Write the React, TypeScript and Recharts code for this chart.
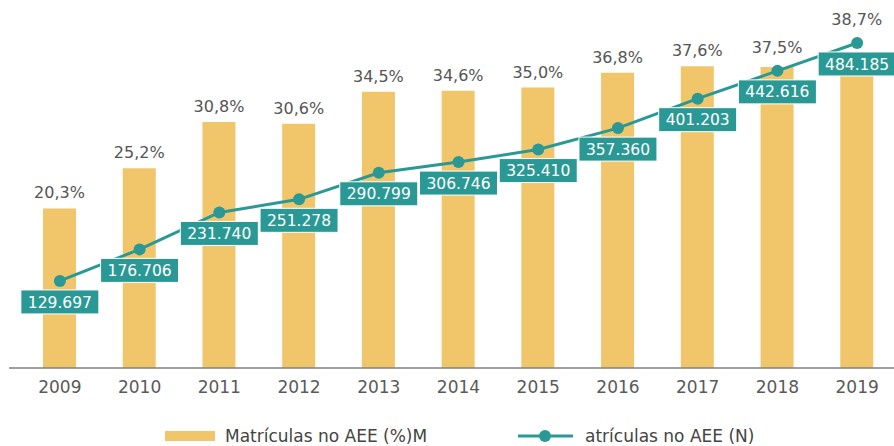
import React from 'react';
import { ComposedChart, Bar, Line, XAxis, YAxis, LabelList } from 'recharts';

const years = ['2009', '2010', '2011', '2012', '2013', '2014', '2015', '2016', '2017', '2018', '2019'];
const pctAEE = [20.3, 25.2, 30.8, 30.6, 34.5, 34.6, 35.0, 36.8, 37.6, 37.5, 38.7];
const countAEE = [129697, 176706, 231740, 251278, 290799, 306746, 325410, 357360, 401203, 442616, 484185];

const BAR_COLOR = '#F1C66B';
const TEAL = '#2A9995';
const FONT = '"DejaVu Sans", sans-serif';
const N_MAX = 503500;
const PLOT_H = 338; // 446 - top 30 - bottom 48 - axis 30

const data = years.map((y, i) => ({ year: y, pct: pctAEE[i], n: countAEE[i] }));

const fmtPct = (v: any) => `${Number(v).toFixed(1).replace('.', ',')}%`;
const fmtN = (v: number) => String(v).replace(/\B(?=(\d{3})+(?!\d))/g, '.');

// percent label above the bar, pushed up when the line point sits higher than the bar
const PctLabel = (props: any) => {
  const { x, y, width, height, value, index } = props;
  if (x == null || y == null) return null;
  const bottom = y + height;
  const dotY = bottom - (countAEE[index] / N_MAX) * PLOT_H;
  const top = Math.min(y, dotY - 8);
  return (
    <text x={x + width / 2} y={top - 10} textAnchor="middle" fill="#555" fontSize={16} fontFamily={FONT}>
      {fmtPct(value)}
    </text>
  );
};

// teal box under each point of the line
const CountLabel = (props: any) => {
  const { x, y, value } = props;
  if (x == null || y == null) return null;
  const w = 78;
  const h = 24;
  return (
    <g>
      <rect x={x - w / 2} y={y + 9} width={w} height={h} fill={TEAL} stroke="#fff" strokeWidth={1} />
      <text x={x} y={y + 21} dy="0.36em" textAnchor="middle" fill="#fff" fontSize={15.5} fontFamily={FONT}>
        {fmtN(value)}
      </text>
    </g>
  );
};

export default function App() {
  return (
    <div style={{ position: 'absolute', left: 0, top: 0, width: 894, height: 446, overflow: 'hidden', background: '#fff', fontFamily: FONT }}>
      <ComposedChart width={900} height={446} data={data} margin={{ top: 30, right: 3, bottom: 48, left: 9 }}>
        <XAxis
          dataKey="year"
          height={30}
          padding={{ left: 11, right: 0 }}
          tickLine={false}
          tickMargin={7}
          axisLine={{ stroke: '#808080', strokeWidth: 1.5 }}
          tick={{ fill: '#5a5a5a', fontSize: 17, fontFamily: FONT }}
          interval={0}
        />
        <YAxis yAxisId="pct" hide type="number" domain={[0.9, 42]} allowDataOverflow />
        <YAxis yAxisId="n" hide type="number" domain={[0, N_MAX]} allowDataOverflow orientation="right" />
        <Bar yAxisId="pct" dataKey="pct" fill={BAR_COLOR} barSize={33} isAnimationActive={false}>
          <LabelList dataKey="pct" content={<PctLabel />} />
        </Bar>
        <Line
          yAxisId="n"
          dataKey="n"
          type="linear"
          stroke={TEAL}
          strokeWidth={3}
          dot={{ r: 6, fill: TEAL, stroke: TEAL, strokeWidth: 0 }}
          isAnimationActive={false}
        >
          <LabelList dataKey="n" content={<CountLabel />} />
        </Line>
      </ComposedChart>
      <div style={{ position: 'absolute', left: 165, top: 431, width: 50, height: 10, background: BAR_COLOR }} />
      <div style={{ position: 'absolute', left: 225, top: 425, fontSize: 17, lineHeight: '22px', color: '#444', whiteSpace: 'nowrap' }}>
        Matrículas no AEE (%)M
      </div>
      <svg style={{ position: 'absolute', left: 516, top: 428 }} width={60} height={16}>
        <line x1={2} y1={8} x2={57} y2={8} stroke={TEAL} strokeWidth={3} />
        <circle cx={29} cy={8} r={6} fill={TEAL} />
      </svg>
      <div style={{ position: 'absolute', left: 585, top: 425, fontSize: 17, lineHeight: '22px', color: '#444', whiteSpace: 'nowrap' }}>
        atrículas no AEE (N)
      </div>
    </div>
  );
}
